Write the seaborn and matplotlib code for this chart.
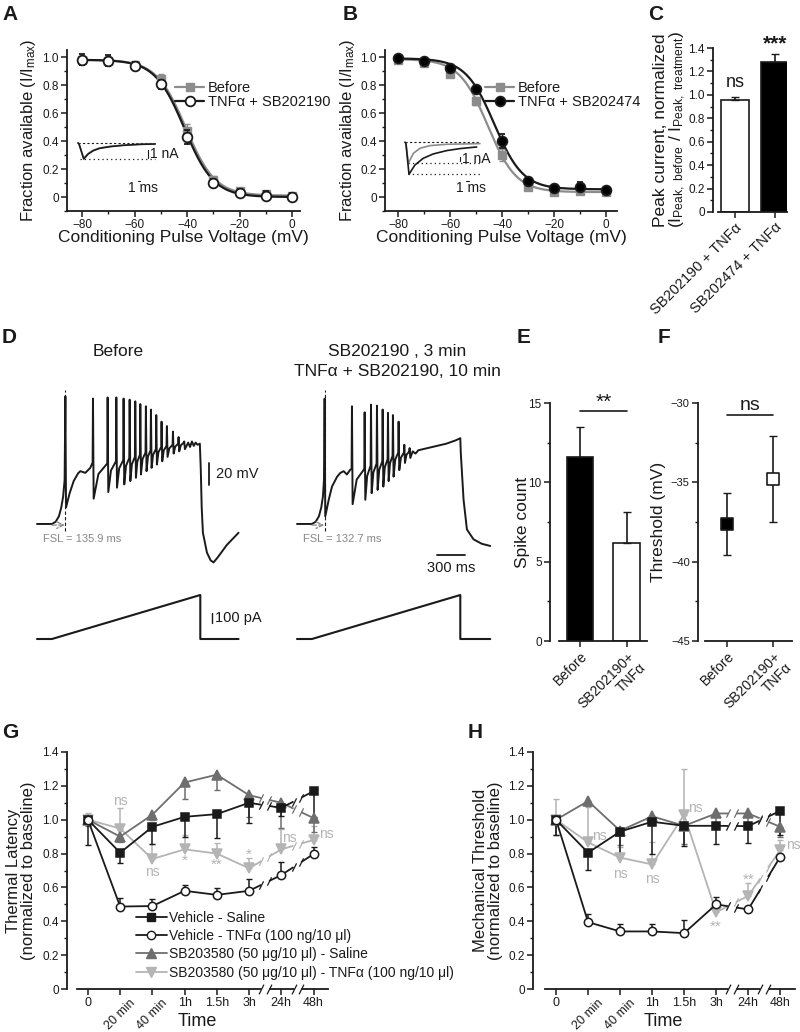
import numpy as np
import matplotlib
matplotlib.use('Agg')
import matplotlib.pyplot as plt
import seaborn as sns
from matplotlib.lines import Line2D
from matplotlib.ticker import MultipleLocator

sns.set_theme(style='ticks')
plt.rcParams['font.family'] = ['Liberation Sans', 'DejaVu Sans']
plt.rcParams['mathtext.fontset'] = 'custom'
plt.rcParams['mathtext.rm'] = 'Liberation Sans'
plt.rcParams['mathtext.it'] = 'Liberation Sans:italic'
plt.rcParams['text.color'] = 'k'
plt.rcParams['axes.labelcolor'] = 'k'

# ---------------- data ----------------
# A / B : steady-state inactivation
volt = [-80, -70, -60, -50, -40, -30, -20, -10, 0]
a_before = [0.98, 0.975, 0.94, 0.84, 0.47, 0.12, 0.04, 0.02, 0.01]
a_before_err = [0.03, 0.03, 0.03, 0.04, 0.05, 0.03, 0.02, 0.02, 0.02]
a_sb190 = [0.98, 0.975, 0.935, 0.805, 0.43, 0.10, 0.03, 0.01, 0.0]
a_sb190_err = [0.04, 0.04, 0.03, 0.03, 0.05, 0.03, 0.03, 0.03, 0.03]
a_fit_before = [-40.5, 5.6, 0.98, 0.01]   # V1/2, slope, top, floor
a_fit_sb190 = [-41.0, 5.6, 0.98, 0.0]

b_before = [0.98, 0.955, 0.88, 0.685, 0.30, 0.07, 0.035, 0.04, 0.035]
b_before_err = [0.02, 0.02, 0.02, 0.03, 0.04, 0.02, 0.02, 0.02, 0.02]
b_sb474 = [0.99, 0.975, 0.925, 0.775, 0.40, 0.115, 0.065, 0.075, 0.05]
b_sb474_err = [0.02, 0.02, 0.02, 0.02, 0.05, 0.02, 0.02, 0.03, 0.02]
b_fit_before = [-45.5, 5.5, 0.985, 0.035]
b_fit_sb474 = [-43.0, 5.5, 0.99, 0.055]

# inset current traces (ms, nA)
ia_t = [0, 0.33, 1.9, 3.4, 5.1, 7.2, 10.6, 15.1, 20.6, 25.7]
ia_before = [0, -0.1, -1.9, -1.3, -0.9, -0.62, -0.42, -0.27, -0.16, -0.12]
ia_sb190 = [0, -0.1, -2.0, -1.38, -0.96, -0.67, -0.46, -0.29, -0.17, -0.125]
ib_t_before = [0, 0.3, 1.1, 2.8, 5, 8.3, 13.9, 25]
ib_before = [0, -0.2, -5.25, -2.75, -1.5, -0.83, -0.5, -0.33]
ib_t_sb474 = [0, 0.3, 1.33, 3.33, 6.1, 9.4, 13.9, 18.3, 23.9]
ib_sb474 = [0, -0.2, -8.0, -5.67, -4.0, -2.92, -2.08, -1.58, -1.17]

# C
c_groups = ['SB202190 + TNFα', 'SB202474 + TNFα']
c_vals = [0.96, 1.28]
c_err = [0.02, 0.07]
c_sig = ['ns', '***']

# D : current-clamp traces (ms, mV) and ramp (ms, pA)
bef_onset_t = [0, 160, 200, 235, 260, 280, 296]
bef_onset_v = [-70, -70, -68, -63, -55, -45, -30]
bef_spk_t = [304, 600, 757, 850, 928, 993, 1053, 1107, 1167, 1221, 1278, 1335, 1392, 1457, 1517, 1578]
bef_spk_peak = [46, 44, 45, 45, 44, 43, 41.5, 39, 37, 34, 29, 23, 19, 14, 9, 5]
bef_spk_trough = [-55, -47, -41, -37, -34, -31, -28, -25, -22, -19, -16, -13, -9, -6, -4, -2]
bef_pre = [-30, -14, -15, -13, -12, -10, -9, -7, -5, -3, -2, 0, 1, 2, 3, 4]
bef_isi1_t = [350, 393, 440, 464, 518, 571]
bef_isi1_v = [-42, -31, -24, -22, -23.5, -19]
bef_plateau_t = [1620, 1640, 1660, 1680, 1700, 1720, 1745]
bef_plateau_v = [4, 0, 5, 1, 4, 2, 3]
bef_offset_t = [1755, 1765, 1778, 1821, 1860, 1892, 1940, 2035, 2160]
bef_offset_v = [-20, -55, -78, -96, -103, -105, -100, -89, -78]

aft_onset_t = [0, 160, 200, 235, 260, 278, 289]
aft_onset_v = [-70, -70, -68, -63, -55, -45, -30]
aft_spk_t = [296, 589, 725, 793, 857, 918, 975, 1028, 1089, 1150, 1207]
aft_spk_peak = [44, 37, 31.5, 38.5, 37.5, 34, 31, 29, 23, 2, -1]
aft_spk_trough = [-63, -52, -48, -42, -39, -36, -31, -27, -21, -14.5, -10]
aft_pre = [-30, -20, -20, -17, -15, -13, -11, -8, -5, -5, -4]
aft_isi1_t = [340, 375, 430, 464, 500, 535, 571]
aft_isi1_v = [-48, -36, -27, -23.6, -22, -25, -20.6]
aft_plateau_t = [1240, 1270, 1300, 1400, 1500, 1600, 1700, 1750]
aft_plateau_v = [-4, -6, -3, -1, 1, 3, 6, 8]
aft_offset_t = [1755, 1785, 1821, 1892, 1980, 2071]
aft_offset_v = [-5, -48, -75, -84, -88, -90]

ramp_t = [0, 160, 1750, 1750, 2160]
ramp_pa = [0, 0, 440, 0, 0]
fsl_text = ['FSL = 135.9 ms', 'FSL = 132.7 ms']

# E / F
ef_groups = ['Before', 'SB202190+\nTNFα']
e_vals = [11.6, 6.15]
e_err = [1.9, 2.0]
f_vals = [-37.6, -34.8]
f_err = [1.95, 2.7]

# G / H : behaviour time course
times = ['0', '20 min', '40 min', '1h', '1.5h', '3h', '24h', '48h']
g_veh_sal = [1.0, 0.805, 0.958, 1.017, 1.033, 1.10, 1.07, 1.168]
g_veh_sal_err = [0.15, 0.06, 0.10, 0.12, 0.14, 0.12, 0.05, 0.15]
g_veh_tnf = [1.0, 0.487, 0.49, 0.58, 0.556, 0.58, 0.673, 0.797]
g_veh_tnf_err = [0.0, 0.05, 0.04, 0.035, 0.04, 0.07, 0.08, 0.04]
g_sb_sal = [1.0, 0.90, 1.03, 1.22, 1.266, 1.145, 1.10, 1.01]
g_sb_sal_err = [0.04, 0.03, 0.03, 0.095, 0.09, 0.13, 0.15, 0.08]
g_sb_tnf = [1.0, 0.948, 0.768, 0.825, 0.80, 0.713, 0.825, 0.88]
g_sb_tnf_err = [0.04, 0.12, 0.09, 0.085, 0.065, 0.06, 0.12, 0.08]
g_sig = [('ns', 1, 1.11), ('ns', 2, 0.69), ('*', 3, 0.76), ('**', 4, 0.735),
         ('*', 5, 0.79), ('ns', 6.25, 0.89), ('ns', 7.4, 0.915)]

h_veh_sal = [1.0, 0.805, 0.93, 0.988, 0.964, 0.964, 0.962, 1.052]
h_veh_sal_err = [0.09, 0.10, 0.13, 0.19, 0.12, 0.11, 0.10, 0.14]
h_veh_tnf = [1.0, 0.395, 0.34, 0.34, 0.33, 0.50, 0.47, 0.78]
h_veh_tnf_err = [0.0, 0.047, 0.043, 0.043, 0.078, 0.046, 0.02, 0.02]
h_sb_sal = [1.0, 1.11, 0.935, 1.02, 0.964, 1.037, 1.037, 0.958]
h_sb_sal_err = [0.09, 0.03, 0.085, 0.05, 0.11, 0.06, 0.06, 0.06]
h_sb_tnf = [1.0, 0.866, 0.776, 0.736, 1.03, 0.454, 0.55, 0.82]
h_sb_tnf_err = [0.12, 0.21, 0.065, 0.13, 0.27, 0.03, 0.075, 0.06]
h_sig = [('ns', 1.35, 0.905), ('ns', 2.0, 0.68), ('ns', 3.0, 0.65), ('ns', 4.35, 1.072),
         ('**', 5.0, 0.37), ('**', 6.0, 0.645), ('ns', 7.4, 0.85)]

legend_g = ['Vehicle - Saline', 'Vehicle - TNFα (100 ng/10 μl)',
            'SB203580 (50 μg/10 μl) - Saline', 'SB203580 (50 μg/10 μl) - TNFα (100 ng/10 μl)']

# ---------------- layout helpers ----------------
W, H = 800, 1032
fig = plt.figure(figsize=(8, 10.32), dpi=100)
fig.patch.set_facecolor('white')

def box(l, t, r, b):
    return [l / W, 1 - b / H, (r - l) / W, (b - t) / H]

def fx(x):
    return x / W

def fy(y):
    return 1 - y / H

def style(ax, fs=8.5):
    for s in ['top', 'right']:
        ax.spines[s].set_visible(False)
    for s in ['left', 'bottom']:
        ax.spines[s].set_linewidth(1.3)
        ax.spines[s].set_color('k')
    ax.tick_params(which='major', direction='out', length=4, width=1.1, labelsize=fs,
                   color='k', labelcolor='k', pad=2)
    ax.tick_params(which='minor', direction='out', length=2.5, width=1.0, color='k')
    ax.patch.set_alpha(0)

def boltz(v, p):
    vh, k, top, floor = p
    return floor + (top - floor) / (1 + np.exp((v - vh) / k))

gray_a = '#8c8c8c'
dark = '#6e6e6e'
light = '#b4b4b4'

# ---------------- A and B ----------------
def inact_panel(rect, before, before_err, treat, treat_err, fit_b, fit_t, t_marker, t_face, legend_lbl, leg_xy):
    ax = fig.add_axes(box(*rect))
    vv = np.linspace(-80, 0, 200)
    sns.lineplot(x=vv, y=boltz(vv, fit_b), color=gray_a, lw=1.6, ax=ax)
    sns.lineplot(x=vv, y=boltz(vv, fit_t), color='k', lw=1.6, ax=ax)
    ax.errorbar(volt, before, yerr=before_err, fmt='s', color=gray_a, ms=6, capsize=2,
                elinewidth=1, zorder=3)
    ax.errorbar(volt, treat, yerr=treat_err, fmt=t_marker, mfc=t_face, mec='k', color='k',
                ms=7, mew=1.3, capsize=2, elinewidth=1, zorder=4)
    style(ax)
    ax.set_xticks([-80, -60, -40, -20, 0])
    ax.xaxis.set_minor_locator(MultipleLocator(10))
    ax.set_yticks([0, 0.2, 0.4, 0.6, 0.8, 1.0])
    ax.set_yticklabels(['0', '0.2', '0.4', '0.6', '0.8', '1.0'])
    ax.yaxis.set_minor_locator(MultipleLocator(0.1))
    ax.set_ylabel('Fraction available (I/I$_{\\mathregular{max}}$)', fontsize=12)
    ax.set_xlabel('Conditioning Pulse Voltage (mV)', fontsize=12.5)
    handles = [Line2D([0], [0], color=gray_a, marker='s', ms=6, lw=1.6),
               Line2D([0], [0], color='k', marker=t_marker, mfc=t_face, mec='k', ms=7, mew=1.3, lw=1.6)]
    fig.legend(handles, ['Before', legend_lbl], loc='upper left', bbox_to_anchor=(fx(leg_xy[0]), fy(leg_xy[1])),
               frameon=False, fontsize=10.5, handlelength=2.0, handletextpad=0.25, labelspacing=0.0,
               borderpad=0, borderaxespad=0)
    return ax

axA = inact_panel((67, 50, 300, 211), a_before, a_before_err, a_sb190, a_sb190_err,
                  a_fit_before, a_fit_sb190, 'o', 'white', 'TNFα + SB202190', (175, 81))
axA.set_xlim(-85.7, 3)
axA.set_ylim(-0.1, 1.05)
axA.yaxis.set_label_coords((38 - 67) / 233, 0.5)
axA.xaxis.set_label_coords(0.5, (211 - 230) / 161)

axB = inact_panel((385, 50, 617, 211), b_before, b_before_err, b_sb474, b_sb474_err,
                  b_fit_before, b_fit_sb474, 'o', 'black', 'TNFα + SB202474', (485, 81))
axB.set_xlim(-85, 4.2)
axB.set_ylim(-0.1, 1.05)
axB.yaxis.set_label_coords((357 - 385) / 232, 0.5)
axB.xaxis.set_label_coords(0.5, (211 - 230) / 161)

# inset A
iA = fig.add_axes(box(75, 135, 165, 195))
iA.set_xlim(-1, 29)
iA.set_ylim(-6.5, 1.0)
iA.axis('off')
iA.plot([0, 25.7], [0, 0], color='k', ls=(0, (2, 2)), lw=0.8)
iA.plot([0.5, 25.7], [-2.0, -2.0], color='k', ls=(0, (1, 2.5)), lw=0.9)
sns.lineplot(x=ia_t, y=ia_before, color=gray_a, lw=1.2, ax=iA, sort=False, estimator=None)
sns.lineplot(x=ia_t, y=ia_sb190, color='k', lw=1.2, ax=iA, sort=False, estimator=None)
iA.plot([23.3, 23.3], [-0.9, -1.9], color='k', lw=0.8)
iA.text(24.0, -1.4, '1 nA', fontsize=10, va='center', ha='left')
iA.plot([19.9, 20.8], [-4.7, -4.7], color='k', lw=0.8)
iA.text(21.7, -5.6, '1 ms', fontsize=10, va='center', ha='center')

# inset B
iB = fig.add_axes(box(400, 135, 500, 195))
iB.set_xlim(-1.67, 31.7)
iB.set_ylim(-13.2, 1.83)
iB.axis('off')
iB.plot([0, 25], [0, 0], color='k', ls=(0, (2, 2)), lw=0.8)
iB.plot([1, 25], [-5.25, -5.25], color='k', ls=(0, (1, 2.5)), lw=0.9)
iB.plot([1, 25], [-8.0, -8.0], color='k', ls=(0, (1, 2.5)), lw=0.9)
sns.lineplot(x=ib_t_before, y=ib_before, color=gray_a, lw=1.2, ax=iB, sort=False, estimator=None)
sns.lineplot(x=ib_t_sb474, y=ib_sb474, color='k', lw=1.2, ax=iB, sort=False, estimator=None)
iB.plot([18.3, 18.3], [-3.8, -4.8], color='k', lw=0.8)
iB.text(19.0, -4.3, '1 nA', fontsize=10, va='center', ha='left')
iB.plot([20.3, 21.3], [-9.7, -9.7], color='k', lw=0.8)
iB.text(22.0, -11.4, '1 ms', fontsize=10, va='center', ha='center')

# ---------------- C ----------------
axC = fig.add_axes(box(713, 48, 787, 212))
sns.barplot(x=c_groups, y=c_vals, hue=c_groups, palette=['white', 'black'], edgecolor='k',
            linewidth=1.2, width=0.68, legend=False, ax=axC)
axC.errorbar([0, 1], c_vals, yerr=[[0, 0], c_err], fmt='none', ecolor='k', capsize=3, elinewidth=1.2)
axC.text(0, c_vals[0] + c_err[0] + 0.05, c_sig[0], ha='center', va='bottom', fontsize=13)
axC.text(1, c_vals[1] + c_err[1] + 0.0, c_sig[1], ha='center', va='bottom', fontsize=15, fontweight='bold')
style(axC)
axC.set_xlim(-0.55, 1.3)
axC.set_ylim(0, 1.4)
axC.set_yticks(np.arange(0, 1.41, 0.2))
axC.set_yticklabels(['0', '0.2', '0.4', '0.6', '0.8', '1.0', '1.2', '1.4'])
axC.yaxis.set_minor_locator(MultipleLocator(0.1))
axC.set_xticks([0, 1])
axC.set_xticklabels(c_groups, rotation=45, ha='right', rotation_mode='anchor', fontsize=10.5)
axC.set_xlabel('')
axC.set_ylabel('Peak current, normalized\n(I$_{\\mathregular{Peak,\\ before}}$ / I$_{\\mathregular{Peak,\\ treatment}}$)',
               fontsize=12.5, linespacing=1.0)
axC.yaxis.set_label_coords((688 - 713) / 74, 0.5)
axC.spines['bottom'].set_bounds(-0.42, 1.3)

# ---------------- D ----------------
def build_trace(onset_t, onset_v, spk_t, spk_peak, spk_trough, pre, isi1_t, isi1_v,
                plat_t, plat_v, off_t, off_v):
    t = list(onset_t)
    v = list(onset_v)
    for i in range(len(spk_t)):
        if i == 1:
            t += isi1_t
            v += isi1_v
        if i > 0:
            gap = spk_t[i] - spk_t[i - 1]
            if i > 1:
                t.append(spk_t[i - 1] + 7 + 0.35 * (gap - 11))
                v.append(spk_trough[i - 1] + 0.7 * (pre[i] - spk_trough[i - 1]))
            t.append(spk_t[i] - 4)
            v.append(pre[i])
        t += [spk_t[i], spk_t[i] + 7]
        v += [spk_peak[i], spk_trough[i]]
    t += plat_t + off_t
    v += plat_v + off_v
    return t, v

traces = [
    build_trace(bef_onset_t, bef_onset_v, bef_spk_t, bef_spk_peak, bef_spk_trough, bef_pre,
                bef_isi1_t, bef_isi1_v, bef_plateau_t, bef_plateau_v, bef_offset_t, bef_offset_v),
    build_trace(aft_onset_t, aft_onset_v, aft_spk_t, aft_spk_peak, aft_spk_trough, aft_pre,
                aft_isi1_t, aft_isi1_v, aft_plateau_t, aft_plateau_v, aft_offset_t, aft_offset_v),
]
first_spk = [bef_spk_t[0], aft_spk_t[0]]
ramp_end = [2160, 2071]

for k, x0 in enumerate([30, 290]):
    axv = fig.add_axes(box(x0, 380, x0 + 215, 575))
    axv.set_xlim(-75, 2229)
    axv.set_ylim(-116.4, 60.9)
    axv.axis('off')
    tt, vv = traces[k]
    sns.lineplot(x=tt, y=vv, color='k', lw=1.4, ax=axv, sort=False, estimator=None)
    axv.plot([first_spk[k], first_spk[k]], [-76, 52], color='k', ls=(0, (3, 2)), lw=0.8)
    axv.annotate('', xy=(first_spk[k] - 6, -71), xytext=(160, -71),
                 arrowprops=dict(arrowstyle='->', color='#888888', lw=0.9, ls='--', shrinkA=0, shrinkB=0))
    axv.text(60, -83.6, fsl_text[k], color='#888888', fontsize=8, ha='left', va='center')

    axi = fig.add_axes(box(x0, 585, x0 + 215, 650))
    axi.set_xlim(-75, 2229)
    axi.set_ylim(-110, 540)
    axi.axis('off')
    rt = [min(x, ramp_end[k]) for x in ramp_t]
    sns.lineplot(x=rt, y=ramp_pa, color='k', lw=1.5, ax=axi, sort=False, estimator=None)
    if k == 0:
        axv.plot([1843, 1843], [-14.5, -34.5], color='k', lw=1.3)
        axv.text(1915, -24.5, '20 mV', fontsize=10.5, va='center', ha='left')
        axi.plot([1876, 1876], [160, 260], color='k', lw=1.0)
        axi.text(1905, 210, '100 pA', fontsize=10.5, va='center', ha='left')
    else:
        axv.plot([1500, 1800], [-98, -98], color='k', lw=1.3)
        axv.text(1650, -110, '300 ms', fontsize=10.5, va='center', ha='center')

fig.text(fx(118), fy(352), 'Before', fontsize=12.5, ha='center', va='center')
fig.text(fx(397), fy(352), 'SB202190 , 3 min', fontsize=12.5, ha='center', va='center')
fig.text(fx(397), fy(372), 'TNFα + SB202190, 10 min', fontsize=12.5, ha='center', va='center')

# ---------------- E ----------------
axE = fig.add_axes(box(550, 403, 647, 641))
sns.barplot(x=ef_groups, y=e_vals, hue=ef_groups, palette=['black', 'white'], edgecolor='k',
            linewidth=1.2, width=0.57, legend=False, ax=axE)
axE.errorbar([0, 1], e_vals, yerr=[[0, 0], e_err], fmt='none', ecolor='k', capsize=3, elinewidth=1.2)
axE.plot([0, 1], [14.5, 14.5], color='k', lw=1.2)
axE.text(0.5, 14.45, '**', ha='center', va='bottom', fontsize=15)
style(axE)
axE.set_xlim(-0.64, 1.43)
axE.set_ylim(0, 15)
axE.set_yticks([0, 5, 10, 15])
axE.yaxis.set_minor_locator(MultipleLocator(2.5))
axE.set_xticks([0, 1])
axE.set_xticklabels(ef_groups, rotation=45, ha='right', rotation_mode='anchor', fontsize=10)
axE.set_xlabel('')
axE.set_ylabel('Spike count', fontsize=12.5)
axE.yaxis.set_label_coords((530 - 550) / 97, 0.5)
axE.spines['bottom'].set_bounds(-0.45, 1.43)

# ---------------- F ----------------
axF = fig.add_axes(box(698, 403, 792, 641))
axF.errorbar([0, 1], f_vals, yerr=f_err, fmt='none', ecolor='k', capsize=3, elinewidth=1.2)
sns.scatterplot(x=[0], y=[f_vals[0]], marker='s', s=70, color='black', edgecolor='k', linewidth=1.2, ax=axF, zorder=3)
sns.scatterplot(x=[1], y=[f_vals[1]], marker='s', s=70, color='white', edgecolor='k', linewidth=1.2, ax=axF, zorder=3)
axF.plot([0, 1], [-30.76, -30.76], color='k', lw=1.2)
axF.text(0.5, -30.7, 'ns', ha='center', va='bottom', fontsize=14)
style(axF, fs=8)
axF.set_xlim(-0.63, 1.41)
axF.set_ylim(-45, -30)
axF.set_yticks([-45, -40, -35, -30])
axF.yaxis.set_minor_locator(MultipleLocator(2.5))
axF.set_xticks([0, 1])
axF.set_xticklabels(ef_groups, rotation=45, ha='right', rotation_mode='anchor', fontsize=10)
axF.set_ylabel('Threshold (mV)', fontsize=12.5)
axF.yaxis.set_label_coords((666 - 698) / 94, 0.5)
axF.spines['bottom'].set_bounds(-0.48, 1.41)

# ---------------- G and H ----------------
def break_mark(ax, x, y, color, clip=True, z=6):
    ax.plot([x - 0.12, x + 0.12], [y, y], color='white', lw=3.5, solid_capstyle='butt',
            clip_on=clip, zorder=z - 0.5)
    ax.plot([x - 0.12, x + 0.12], [y, y], ls='none', marker=[(-0.5, -1), (0.5, 1)], ms=7,
            mec=color, mew=0.9, clip_on=clip, zorder=z)

def time_panel(rect, series, sig, ylabel, lab_right):
    ax = fig.add_axes(box(*rect))
    pos = np.arange(len(times))
    for vals, err, up, color, marker, face, ms in series:
        lo = [0] * len(err) if up else err
        hi = err if up else [0] * len(err)
        ax.errorbar(pos, vals, yerr=[lo, hi], fmt='none', ecolor=color, capsize=2.5, elinewidth=1.1, zorder=1.5)
        sns.lineplot(x=pos, y=vals, color=color, lw=1.3, marker=marker, mfc=face, mec=color if face != 'white' else 'k',
                     ms=ms, mew=1.1, ax=ax, errorbar=None, zorder=2)
    for vals, err, up, color, marker, face, ms in series:
        for b in (5.5, 6.5):
            yb = np.interp(b, pos, vals)
            slope = (np.interp(b + 0.1, pos, vals) - yb) / 0.1
            ax.plot([b - 0.12, b + 0.12], [yb - 0.12 * slope, yb + 0.12 * slope], color='white',
                    lw=3.5, solid_capstyle='butt', zorder=2.5)
            ax.plot([b - 0.12, b + 0.12], [yb - 0.12 * slope, yb + 0.12 * slope], ls='none',
                    marker=[(-0.5, -1), (0.5, 1)], ms=6, mec=color, mew=0.9, zorder=2.6)
    for txt, x, y in sig:
        ax.text(x, y, txt, color=light, fontsize=10 if 'n' in txt else 11, ha='center', va='center', zorder=5)
    style(ax)
    ax.set_ylim(0, 1.4)
    ax.set_xlim(-0.65, 7.45)
    ax.set_yticks(np.arange(0, 1.41, 0.2))
    ax.set_yticklabels(['0', '0.2', '0.4', '0.6', '0.8', '1.0', '1.2', '1.4'])
    ax.yaxis.set_minor_locator(MultipleLocator(0.1))
    ax.set_xticks(pos)
    ax.set_xticklabels(times, fontsize=9)
    for lbl in ax.get_xticklabels():
        if 'min' in lbl.get_text():
            lbl.set_rotation(45)
    ax.spines['bottom'].set_bounds(-0.35, 7.45)
    for b in (5.5, 6.5):
        break_mark(ax, b, 0, 'k', clip=False, z=7)
    ax.set_ylabel(ylabel, fontsize=12, linespacing=1.0)
    ax.yaxis.set_label_coords((lab_right - rect[0]) / (rect[2] - rect[0]), 0.5)
    ax.set_xlabel('Time', fontsize=13)
    ax.xaxis.set_label_coords(0.5, (989 - 1013) / 237)
    return ax

g_series = [
    (g_sb_tnf, g_sb_tnf_err, True, light, 'v', light, 6.5),
    (g_sb_sal, g_sb_sal_err, False, dark, '^', dark, 6.5),
    (g_veh_sal, g_veh_sal_err, False, 'k', 's', 'k', 5.5),
    (g_veh_tnf, g_veh_tnf_err, True, 'k', 'o', 'white', 6),
]
h_series = [
    (h_sb_tnf, h_sb_tnf_err, True, light, 'v', light, 6.5),
    (h_sb_sal, h_sb_sal_err, False, dark, '^', dark, 6.5),
    (h_veh_sal, h_veh_sal_err, False, 'k', 's', 'k', 5.5),
    (h_veh_tnf, h_veh_tnf_err, True, 'k', 'o', 'white', 6),
]
axG = time_panel((67, 752, 328, 989), g_series, g_sig, 'Thermal Latency\n(normalized to baseline)', 36)
axH = time_panel((533, 752, 793, 989), h_series, h_sig, 'Mechanical Threshold\n(normalized to baseline)', 503)
axH.set_xlim(-0.72, 7.4)

g_handles = [
    Line2D([0], [0], color='k', marker='s', ms=5.5, lw=1.3),
    Line2D([0], [0], color='k', marker='o', mfc='white', mec='k', ms=6, lw=1.3),
    Line2D([0], [0], color=dark, marker='^', ms=6.5, lw=1.3),
    Line2D([0], [0], color=light, marker='v', ms=6.5, lw=1.3),
]
fig.legend(g_handles, legend_g, loc='upper left', bbox_to_anchor=(fx(136), fy(911)), frameon=False,
           fontsize=10, handlelength=2.2, handletextpad=0.2, labelspacing=0.3, borderpad=0, borderaxespad=0)

# ---------------- panel letters ----------------
for lt, x, y in [('A', 2, 20), ('B', 343, 20), ('C', 648, 20), ('D', 2, 343), ('E', 517, 343),
                 ('F', 658, 343), ('G', 2, 738), ('H', 468, 738)]:
    fig.text(fx(x), fy(y), lt, fontsize=15, fontweight='bold', ha='left', va='baseline')

fig.savefig('out.png', dpi=100, facecolor='white')
